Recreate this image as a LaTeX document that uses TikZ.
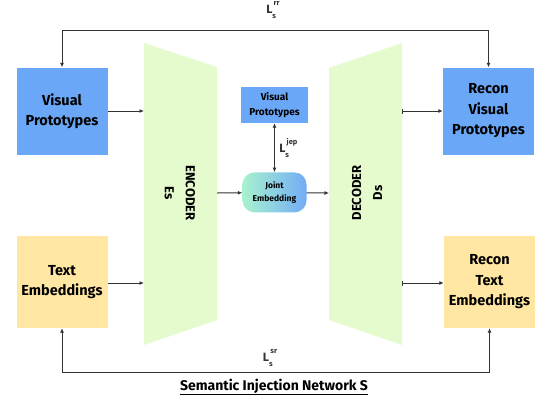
\documentclass[tikz,border=0pt]{standalone}
\usepackage{fontspec}
\setmainfont{Fira Sans}
\usetikzlibrary{arrows.meta,positioning}

\definecolor{protoblue}{HTML}{6BA7F7}
\definecolor{textyellow}{HTML}{FFE7A3}
\definecolor{codergreen}{HTML}{E5FBCD}
\definecolor{jointmint}{HTML}{A8F2CF}
\definecolor{jointblue}{HTML}{72ACF5}
\definecolor{linegray}{HTML}{333333}

\newcommand{\lossname}[1]{L\rlap{\raisebox{-5pt}{\fontsize{7.5}{8}\selectfont s}}\raisebox{8pt}{\fontsize{7.5}{8}\selectfont\,#1}}

\begin{document}
\begin{tikzpicture}[x=1pt,y=-1pt,
    bigbox/.style={minimum width=91pt, minimum height=87pt, inner sep=0pt, align=center,
        font=\fontsize{14.5}{20.5}\selectfont\bfseries},
    visbox/.style={bigbox, fill=protoblue},
    txtbox/.style={bigbox, fill=textyellow, minimum height=92pt},
    coder/.style={fill=codergreen},
    flow/.style={draw=linegray, line width=1pt, -{Latex[length=4.5pt,width=4pt]}},
    outflow/.style={flow, {Bar[width=5pt,line width=0.8pt]}-{Latex[length=4.5pt,width=4pt]}},
    loss/.style={font=\fontsize{12}{12}\selectfont\bfseries, text=linegray}]
\useasboundingbox (0,0) rectangle (538,400);

% encoder and decoder
\fill[coder] (144,43) -- (217,67) -- (217,320) -- (144,345) -- cycle;
\fill[coder] (329,68) -- (402,43) -- (402,345) -- (329,320) -- cycle;
\node[rotate=-90, align=center, font=\fontsize{13}{21}\selectfont\bfseries] (enc) at (180,193) {ENCODER\\Es};
\node[rotate=90, align=center, font=\fontsize{13}{21}\selectfont\bfseries] (dec) at (367,193) {DECODER\\Ds};
\coordinate (encvis) at (144,111);
\coordinate (enctxt) at (144,283);
\coordinate (encout) at (217,193);
\coordinate (decin) at (329,193);
\coordinate (decvis) at (402,111);
\coordinate (dectxt) at (402,283);

% inputs and outputs
\node[visbox] (vis) at (62,111) {Visual\\Prototypes};
\node[txtbox] (txt) at (62,282) {Text\\Embeddings};
\node[visbox] (rvis) at (488.5,111) {Recon\\Visual\\Prototypes};
\node[txtbox] (rtxt) at (489.5,282) {Recon\\Text\\Embeddings};

% joint embedding
\node[fill=protoblue, minimum width=67pt, minimum height=36pt, inner sep=0pt, align=center,
    font=\fontsize{10}{15}\selectfont\bfseries] (svis) at (274.5,105) {Visual\\Prototypes};
\node[rounded corners=12pt, left color=jointmint, right color=jointblue, minimum width=64pt,
    minimum height=40pt, inner sep=0pt, align=center, font=\fontsize{8.5}{12.5}\selectfont\bfseries,
    below=49pt of svis] (joint) {Joint\\Embedding};

\draw[flow] (vis) -- (encvis);
\draw[flow] (txt.east |- enctxt) -- (enctxt);
\draw[flow] (encout) -- (joint);
\draw[flow] (joint) -- (decin);
\draw[outflow] (decvis) -- (rvis.west |- decvis);
\draw[outflow] (dectxt) -- (rtxt.west |- dectxt);
\draw[flow, {Latex[length=4.5pt,width=4pt]}-{Latex[length=4.5pt,width=4pt]}] (svis) -- (joint)
    node[loss, midway, right=1pt] {\lossname{jep}};

% reconstruction losses
\coordinate (topl) at (62,30);
\coordinate (topr) at (488.5,30);
\coordinate (botl) at (62,372);
\coordinate (botr) at (489.5,372);
\draw[flow] (topl) -- (topr) -- (rvis);
\draw[flow] (topr) -- (topl) -- (vis);
\draw[flow] (botl) -- (botr) -- (rtxt);
\draw[flow] (botr) -- (botl) -- (txt);
\node[loss] (lrr) at (273,10) {\lossname{rr}};
\node[loss] (lsr) at (270,358) {\lossname{sr}};

\node[font=\fontsize{14}{16}\selectfont\bfseries] (title) at (274,387) {\underline{Semantic Injection Network S}};
\end{tikzpicture}
\end{document}
